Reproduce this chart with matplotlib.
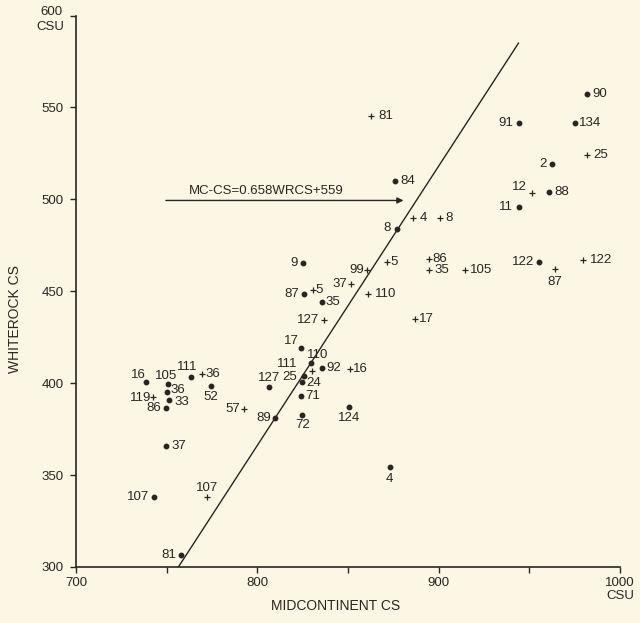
import matplotlib
matplotlib.use("Agg")
import matplotlib.pyplot as plt

# Midcontinent vs Whiterock cutting scores (CSU)
mc_dot = [981.7, 944.2, 974.9, 962.4, 961.0, 944.2, 955.4, 876.0, 876.9, 825.2,
          825.9, 835.5, 823.9, 829.6, 835.3, 825.4, 824.5, 806.5, 823.9, 850.6,
          809.8, 824.8, 873.2, 738.4, 750.6, 763.4, 774.5, 750.0, 751.3, 749.6,
          749.6, 743.2, 757.7]
wr_dot = [557.4, 541.8, 541.8, 519.3, 504.0, 496.0, 466.1, 510.2, 483.7, 465.5,
          448.5, 444.0, 419.0, 411.1, 408.1, 404.0, 400.8, 398.0, 393.1, 387.2,
          380.8, 382.6, 354.5, 400.4, 399.3, 403.2, 398.4, 395.0, 390.8, 386.6,
          365.8, 338.2, 306.3]
id_dot = ["90", "91", "134", "2", "88", "11", "122", "84", "8", "9",
          "87", "35", "17", "110", "92", "25", "24", "127", "71", "124",
          "89", "72", "4", "16", "105", "111", "52", "36", "33", "86",
          "37", "107", "81"]

mc_plus = [981.7, 951.2, 900.8, 886.0, 894.7, 894.7, 914.2, 964.2, 979.3, 862.7,
           871.3, 860.3, 830.5, 851.7, 861.2, 836.8, 886.6, 830.3, 851.1, 769.3,
           742.6, 792.8, 772.1]
wr_plus = [524.3, 503.6, 490.0, 489.7, 467.4, 461.6, 461.6, 462.0, 467.0, 545.6,
           466.0, 461.6, 450.7, 454.0, 448.5, 434.3, 434.9, 406.8, 407.5, 404.8,
           392.6, 385.7, 338.2]
id_plus = ["25", "12", "8", "4", "86", "35", "105", "87", "122", "81",
           "5", "99", "5", "37", "110", "127", "17", "111", "16", "36",
           "119", "57", "107"]

# Fitted relation MC-CS = 0.658 * WRCS + 559
slope, intercept = 0.658, 559
wr_fit = [300, 585]
fit_text = "MC-CS=0.658WRCS+559"

x_ticks = [700, 800, 900, 1000]
y_ticks = [300, 350, 400, 450, 500, 550, 600]

# label placement (pixel offsets, horizontal alignment)
dot_lab = [(5, 0, "left"), (-6, 0, "right"), (4, 0, "left"), (-5, 0, "right"),
           (5, 0, "left"), (-6, 0, "right"), (-5, 0, "right"), (5, 0, "left"),
           (-6, 1, "right"), (-5, 0, "right"),
           (-5, 0, "right"), (4, 0, "left"), (-2, 7, "right"), (6, 8, "center"),
           (5, 0, "left"), (-6, -1, "right"), (4, -1, "left"), (0, 9, "center"),
           (4, 0, "left"), (0, -11, "center"),
           (-4, 0, "right"), (0, -10, "center"), (-1, -12, "center"),
           (-7, 7, "center"), (-2, 8, "center"), (-4, 10, "center"),
           (0, -11, "center"), (4, 2, "left"), (5, -2, "left"), (-5, 0, "right"),
           (5, 0, "left"), (-5, 0, "right"), (-5, 0, "right")]
plus_lab = [(6, 0, "left"), (-5, 6, "right"), (5, 0, "left"), (6, 0, "left"),
            (3, 0, "left"), (5, 0, "left"), (5, 0, "left"), (0, -13, "center"),
            (7, 0, "left"), (7, 0, "left"),
            (4, 0, "left"), (-3, 0, "right"), (3, 0, "left"), (-4, 0, "right"),
            (6, 0, "left"), (-5, 0, "right"), (4, 0, "left"), (-15, 7, "right"),
            (3, 0, "left"), (4, 0, "left"),
            (-2, -1, "right"), (-4, 0, "right"), (0, 9, "center")]

bg = "#fcf6e4"
ink = "#2a2522"
plt.rcParams["font.family"] = ["Liberation Sans", "DejaVu Sans"]

fig = plt.figure(figsize=(6.4, 6.23), dpi=100, facecolor=bg)
ax = fig.add_axes([0.119, 0.090, 0.850, 0.885], facecolor=bg)

ax.plot([slope * w + intercept for w in wr_fit], wr_fit, color=ink, lw=1.0)

ax.plot(mc_dot, wr_dot, "o", ms=3.2, color=ink, mec=ink, ls="none")
ax.plot(mc_plus, wr_plus, "+", ms=5, mew=0.9, color=ink, ls="none")

for x, y, t, (dx, dy, ha) in zip(mc_dot, wr_dot, id_dot, dot_lab):
    ax.annotate(t, (x, y), xytext=(dx, dy), textcoords="offset pixels",
                ha=ha, va="center", fontsize=9.5, color=ink)
for x, y, t, (dx, dy, ha) in zip(mc_plus, wr_plus, id_plus, plus_lab):
    ax.annotate(t, (x, y), xytext=(dx, dy), textcoords="offset pixels",
                ha=ha, va="center", fontsize=9.5, color=ink)

# equation with arrow pointing at the fitted line
ax.annotate("", xy=(880.5, 499.4), xytext=(749.5, 499.4),
            arrowprops=dict(arrowstyle="-|>", color=ink, lw=1.0,
                            mutation_scale=9, shrinkA=0, shrinkB=0))
ax.text(805, 501.5, fit_text, ha="center", va="bottom", fontsize=9.5, color=ink)

ax.set_xlim(700, 1000)
ax.set_ylim(300, 600)
ax.spines["top"].set_visible(False)
ax.spines["right"].set_visible(False)
for s in ("left", "bottom"):
    ax.spines[s].set_color(ink)
    ax.spines[s].set_linewidth(1.2)

x_all = [700, 750, 800, 850, 900, 950, 1000]
ax.set_xticks(x_all)
ax.set_xticklabels([str(v) if v in x_ticks else "" for v in x_all])
ax.set_yticks(y_ticks)
# the top value is drawn separately together with its unit
ax.set_yticklabels([str(v) if v != 600 else "" for v in y_ticks])
ax.tick_params(direction="out", length=4, width=1.0, color=ink,
               labelcolor=ink, labelsize=9.5)
ax.tick_params(axis="y", pad=5)
ax.tick_params(axis="x", pad=3)

ax.text(-0.026, 1.007, "600", transform=ax.transAxes, ha="right", va="center",
        fontsize=9.5, color=ink)
ax.text(-0.022, 0.979, "CSU", transform=ax.transAxes, ha="right", va="center",
        fontsize=9.5, color=ink)
ax.text(1.0, -0.052, "CSU", transform=ax.transAxes, ha="center", va="center",
        fontsize=9.5, color=ink)

ax.set_xlabel("MIDCONTINENT CS", fontsize=10, color=ink)
ax.set_ylabel("WHITEROCK CS", fontsize=10, color=ink)
ax.xaxis.set_label_coords(0.476, -0.058)
ax.yaxis.set_label_coords(-0.099, 0.45)

fig.savefig("out.png", dpi=100, facecolor=bg)
